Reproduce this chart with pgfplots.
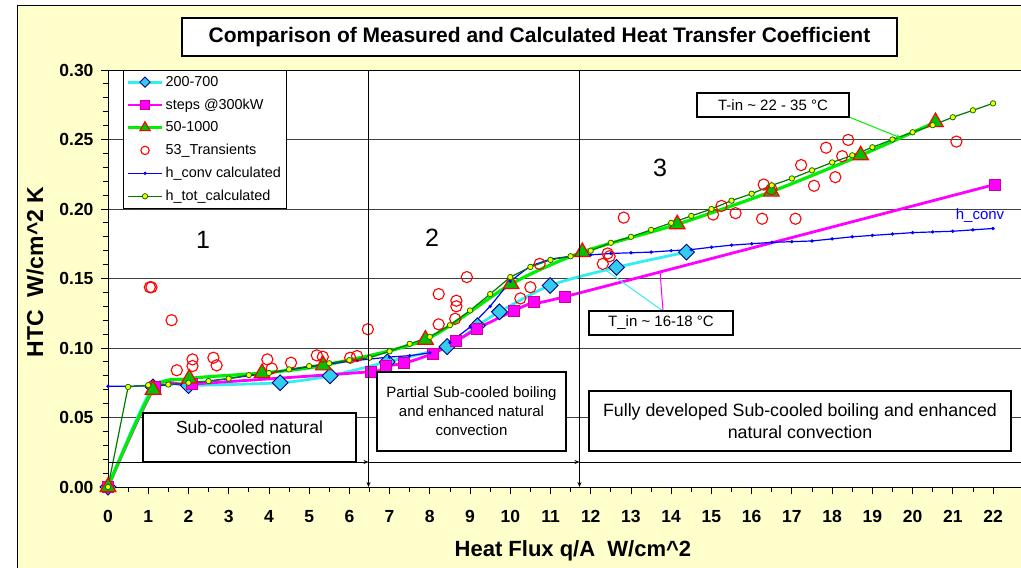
\documentclass[border=0pt]{standalone}
\usepackage{fontspec}
\setmainfont{Liberation Sans}
\usepackage{pgfplots}
\pgfplotsset{compat=1.18}
\usetikzlibrary{arrows.meta}
\definecolor{bgy}{HTML}{FFFFCC}
\definecolor{cyl}{HTML}{33EEEE}
\definecolor{cyf}{HTML}{33CCEE}
\definecolor{navyb}{HTML}{000080}
\definecolor{mag}{HTML}{FF00FF}
\definecolor{magd}{HTML}{CC0099}
\definecolor{lgr}{HTML}{00EE00}
\definecolor{tgr}{HTML}{00C000}
\definecolor{dgr}{HTML}{007A00}
\definecolor{yel}{HTML}{FFFF00}
\newcommand\fs[2]{\fontsize{#1}{#2}\selectfont}
\begin{document}
\begin{tikzpicture}[x=1pt,y=1pt]
\useasboundingbox (0,0) rectangle (1021,568);
\fill[white] (0,0) rectangle (1021,568);
\fill[bgy] (17,0) rectangle (1021,562);
\draw[line width=1pt] (17,0) -- (17,562) -- (1021,562);
\begin{axis}[
  at={(108pt,81pt)}, anchor=south west,
  scale only axis, width=916pt, height=417pt,
  xmin=0, xmax=22.77, ymin=0, ymax=0.30,
  axis background/.style={fill=white},
  axis line style={black, line width=0.9pt},
  xtick={0,1,...,22}, minor x tick num=1,
  ytick={0,0.05,0.1,0.15,0.2,0.25,0.3}, minor y tick num=4,
  xtick pos=bottom, ytick pos=left,
  tick align=outside, major tick length=7pt, minor tick length=5pt,
  tick style={black, line width=0.8pt},
  scaled y ticks=false,
  /pgf/number format/assume math mode=true,
  ticklabel style={font=\bfseries\fs{17.5}{18}},
  yticklabel style={/pgf/number format/fixed,/pgf/number format/fixed zerofill,/pgf/number format/precision=2, xshift=-4pt},
  xticklabel style={yshift=-13pt},
  ymajorgrids, major grid style={black!75, line width=0.8pt},
  xlabel={Heat Flux q/A\ \ W/cm\^{}2},
  ylabel={HTC\ \ W/cm\^{}2 K},
  xlabel style={font=\bfseries\fs{22}{24}, at={(axis description cs:0.5076,-0.1535)}, anchor=center},
  ylabel style={font=\bfseries\fs{23}{24}, at={(axis description cs:-0.0797,0.5156)}, anchor=center},
  legend style={at={(axis description cs:0.0164,1)}, anchor=north west, draw=black, line width=0.8pt, fill=white,
    font=\fs{14.4}{16}, row sep=7pt, inner xsep=3pt, inner ysep=4pt},
  legend cell align=left,
  legend image code/.code={\draw[mark repeat=2,mark phase=2,#1] plot coordinates {(0pt,0pt) (17pt,0pt) (34pt,0pt)};},
]
% 200-700
\addplot[forget plot, color=cyl, line width=2.8pt, smooth, tension=0.45, mark=square*, mark size=5.6pt,
  mark options={rotate=45, fill=cyf, draw=navyb, line width=0.9pt}] coordinates {
(0,0) (1.12,0.072) (2.0,0.073) (4.28,0.075) (5.52,0.080) (6.94,0.090) (8.43,0.101) (9.18,0.116) (9.73,0.126) (10.99,0.145) (12.64,0.158) (14.38,0.169)};
% steps @300kW
\addplot[forget plot, color=mag, line width=2.8pt, smooth, tension=0.35, mark=square*, mark size=5.5pt,
  mark options={fill=mag, draw=magd, line width=0.9pt}] coordinates {
(0,0) (1.17,0.072) (2.08,0.074) (6.54,0.083) (6.92,0.087) (7.36,0.089) (8.08,0.096) (8.66,0.105) (9.18,0.114) (10.1,0.127) (10.6,0.133) (11.37,0.137) (22.04,0.2176)};
% 50-1000
\addplot[forget plot, color=lgr, line width=3.2pt, smooth, tension=0.45, mark=triangle*, mark size=9pt,
  mark options={fill=tgr, draw=red, line width=1.2pt}] coordinates {
(0,0) (1.12,0.070) (2.02,0.078) (3.83,0.082) (5.35,0.0875) (7.89,0.106) (10.02,0.146) (11.79,0.169) (14.15,0.189) (16.49,0.2125) (18.71,0.2386) (20.57,0.2625)};
% 53_Transients
\addplot[forget plot, only marks, mark=o, mark size=5.6pt, mark options={draw=red, line width=1.1pt}] coordinates {
(1.04,0.1437) (1.08,0.1437) (1.58,0.120) (1.71,0.084) (2.1,0.0918) (2.1,0.087) (2.62,0.093) (2.7,0.0875) (3.96,0.0918) (4.07,0.0853) (4.55,0.0894) (5.19,0.0947) (5.34,0.0937) (6.02,0.093) (6.19,0.0942) (6.46,0.1135) (8.22,0.1388) (8.22,0.117) (8.66,0.134) (8.66,0.130) (8.63,0.121) (8.92,0.151) (10.25,0.1357) (10.5,0.1437) (10.73,0.1605) (12.3,0.1605) (12.42,0.168) (12.47,0.166) (12.82,0.1938) (15.04,0.196) (15.25,0.2022) (15.6,0.197) (16.26,0.193) (16.3,0.2176) (16.49,0.2142) (17.09,0.193) (17.23,0.2316) (17.55,0.2167) (17.85,0.2441) (18.08,0.2229) (18.25,0.238) (18.4,0.2497) (21.09,0.2485)};
% h_conv calculated
\addplot[forget plot, color=blue, line width=1.2pt, mark=*, mark size=1pt] coordinates {
(0,0.0725) (0.5,0.0725) (1.0,0.0728) (1.5,0.0733) (2.0,0.075) (2.5,0.0762) (3.0,0.078) (3.5,0.080) (4.0,0.082) (4.5,0.0843) (5.0,0.0865) (5.5,0.0885) (6.0,0.0905) (6.5,0.092) (7.0,0.0935) (7.5,0.0945) (8.0,0.0965) (8.5,0.104) (9.0,0.115) (9.5,0.130) (10.0,0.148) (10.5,0.159) (11.0,0.164) (11.5,0.166) (12.0,0.167) (12.5,0.168) (13.0,0.1685) (13.5,0.169) (14.0,0.170) (14.5,0.1708) (15.0,0.1725) (15.5,0.174) (16.0,0.175) (16.5,0.176) (17.0,0.1765) (17.5,0.177) (18.0,0.1785) (18.5,0.180) (19.0,0.181) (19.5,0.182) (20.0,0.183) (20.5,0.1835) (21.0,0.184) (21.5,0.185) (22.0,0.186)};
% h_tot calculated
\addplot[forget plot, color=dgr, line width=1.2pt, mark=*, mark size=2.7pt, mark options={fill=yel, draw=dgr, line width=0.8pt}] coordinates {
(0,0) (0.5,0.072) (1.0,0.0733) (1.5,0.0737) (2.0,0.075) (2.5,0.0762) (3.0,0.078) (3.5,0.0805) (4.0,0.082) (4.5,0.0846) (5.0,0.087) (5.5,0.089) (6.0,0.0913) (6.5,0.093) (7.0,0.0976) (7.5,0.103) (8.0,0.108) (8.5,0.1164) (9.0,0.127) (9.5,0.1388) (10.0,0.151) (10.5,0.1583) (11.0,0.1634) (11.5,0.166) (12.0,0.170) (12.5,0.1757) (13.0,0.180) (13.5,0.185) (14.0,0.190) (14.5,0.195) (15.0,0.200) (15.5,0.206) (16.0,0.211) (16.5,0.217) (17.0,0.222) (17.5,0.2278) (18.0,0.2335) (18.5,0.2386) (19.0,0.2444) (19.5,0.250) (20.0,0.2552) (20.5,0.2603) (21.0,0.266) (21.5,0.271) (22.0,0.276)};
% legend
\addlegendimage{color=cyl, line width=2.8pt, mark=square*, mark size=3.6pt, mark options={rotate=45, fill=cyf, draw=navyb, line width=0.9pt}}
\addlegendentry{200-700}
\addlegendimage{color=mag, line width=2.8pt, mark=square*, mark size=4.8pt, mark options={fill=mag, draw=magd, line width=0.9pt}}
\addlegendentry{steps @300kW}
\addlegendimage{color=lgr, line width=3.2pt, mark=triangle*, mark size=6pt, mark options={fill=tgr, draw=red, line width=1.1pt}}
\addlegendentry{50-1000}
\addlegendimage{only marks, mark=o, mark size=4.2pt, mark options={draw=red, line width=1.1pt}}
\addlegendentry{53\_Transients}
\addlegendimage{color=blue, line width=1.2pt, mark=*, mark size=1pt}
\addlegendentry{h\_conv calculated}
\addlegendimage{color=dgr, line width=1.2pt, mark=*, mark size=2.7pt, mark options={fill=yel, draw=dgr, line width=0.8pt}}
\addlegendentry{h\_tot\_calculated}
\end{axis}
% region separators and arrows
\draw[line width=0.9pt, -{Stealth[length=5pt,width=4pt]}] (368.5,498) -- (368.5,81);
\draw[line width=0.9pt, -{Stealth[length=5pt,width=4pt]}] (579.5,498) -- (579.5,81);
\draw[line width=0.9pt, -{Stealth[length=5pt,width=4pt]}] (108,106) -- (368.5,106);
\draw[line width=0.9pt, -{Stealth[length=5pt,width=4pt]}] (368.5,106) -- (579.5,106);
\draw[line width=0.9pt] (579.5,106) -- (1021,106);
% title
\node[draw, line width=1.2pt, fill=white, minimum width=715pt, minimum height=38pt, inner sep=0pt, font=\bfseries\fs{21}{24}] at (539.5,531) {Comparison of Measured and Calculated Heat Transfer Coefficient};
% boxes
\node[draw, line width=1.2pt, fill=white, minimum width=213pt, minimum height=49pt, inner sep=0pt, align=center, font=\fs{17.5}{21.5}] at (249.5,130.5) {Sub-cooled natural\\convection};
\node[draw, line width=1.2pt, fill=white, minimum width=189pt, minimum height=79pt, inner sep=0pt, align=center, font=\fs{15}{19}] at (471.5,156.5) {Partial Sub-cooled boiling\\and enhanced natural\\convection};
\node[draw, line width=1.2pt, fill=white, minimum width=422pt, minimum height=60pt, inner sep=0pt, align=center, font=\fs{17.8}{22}] at (800,147) {Fully developed Sub-cooled boiling and enhanced\\natural convection};
% numbers
\node[font=\fs{25}{26}] at (203,328) {1};
\node[font=\fs{25}{26}] at (432,330) {2};
\node[font=\fs{25}{26}] at (660,400) {3};
% temperature callouts
\draw[color=lgr, line width=1pt, -{Stealth[length=5pt,width=4pt]}] (849,451) -- (901,430);
\draw[color=cyl, line width=1pt] (663,257) -- (604,299);
\draw[color=mag, line width=1pt] (663,257) -- (660,297);
\node[draw, line width=1.2pt, fill=white, minimum width=152pt, minimum height=24pt, inner sep=0pt, font=\fs{15}{17}] at (773,463) {T-in \textasciitilde{} 22 - 35 °C};
\node[draw, line width=1.2pt, fill=white, minimum width=144pt, minimum height=24pt, inner sep=0pt, font=\fs{15}{17}] at (661,245) {T\_in \textasciitilde{} 16-18 °C};
\node[text=blue, font=\fs{15}{17}] at (980,352) {h\_conv};
\end{tikzpicture}
\end{document}
